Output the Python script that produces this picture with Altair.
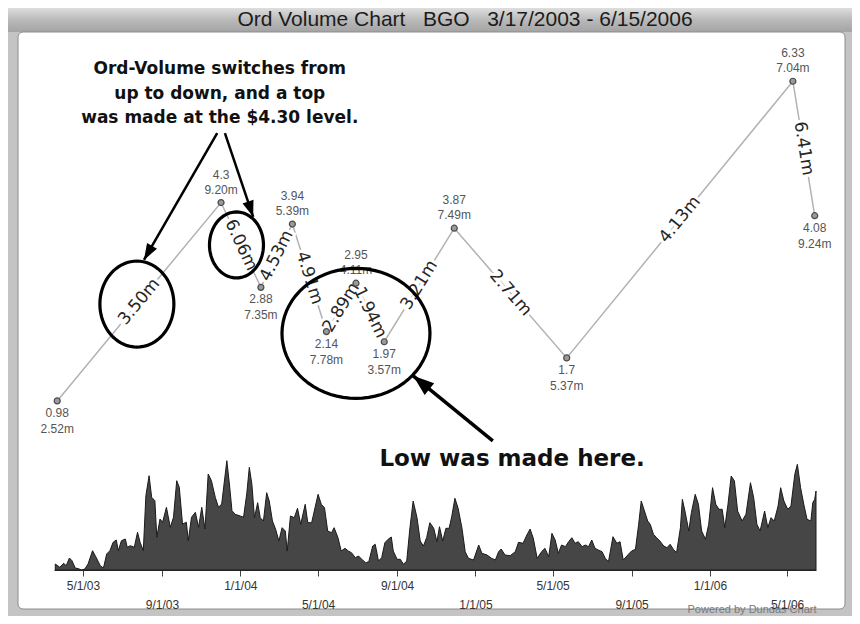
import math
import altair as alt
import pandas as pd

# ---------------- data ----------------
pivot_dates = ["2003-03-22", "2003-12-02", "2004-02-02", "2004-03-22", "2004-05-14",
               "2004-06-29", "2004-08-12", "2004-11-29", "2005-05-23", "2006-05-10",
               "2006-06-13"]
pivot_prices = [0.98, 4.3, 2.88, 3.94, 2.14, 2.95, 1.97, 3.87, 1.7, 6.33, 4.08]
pivot_vol_labels = ["2.52m", "9.20m", "7.35m", "5.39m", "7.78m", "4.11m", "3.57m",
                    "7.49m", "5.37m", "7.04m", "9.24m"]
pivot_kind = ["low", "high", "low", "high", "low", "high", "low", "high", "low", "high", "low"]
segment_vol_labels = ["3.50m", "6.06m", "4.53m", "4.91m", "2.89m", "1.94m", "3.21m",
                      "2.71m", "4.13m", "6.41m"]

vol_start = "2003-03-17"
vol_day = [2, 9, 15, 19, 24, 28, 33, 38, 43, 48, 53, 60, 65, 72, 77, 82, 87, 92, 97, 100,
           105, 111, 114, 119, 125, 130, 134, 139, 143, 148, 152, 157, 160, 165, 169, 175,
           181, 186, 191, 195, 200, 206, 209, 214, 220, 225, 230, 235, 240, 245, 251, 256,
           261, 269, 273, 277,
           282, 290, 295, 300, 304, 308, 312, 317, 321, 326, 331, 335, 340, 345, 350, 355,
           360, 363, 368, 374, 379, 384, 391, 395, 401, 411, 416, 421, 426, 432, 436, 442,
           447, 453, 458, 463, 469, 474, 479, 485, 490, 496, 500, 505, 510, 515, 520, 525,
           528, 534, 539, 544, 549, 554, 559, 565, 570, 575, 580, 585,
           591, 596, 600, 605, 610, 615, 619, 624, 629, 635, 640, 645, 653, 661, 666, 674,
           681, 687, 692, 696, 702, 710, 718, 723, 730, 736, 741, 746, 752, 759, 764, 770,
           775, 780, 785, 790, 796, 801, 806, 811, 816, 822, 827, 832, 837, 842, 847, 853,
           858, 863, 870, 876, 881, 886,
           894, 899, 905, 910, 914, 919, 924, 928, 933, 938, 943, 949, 954, 959, 964, 969,
           975, 978, 982, 988, 992, 998, 1003, 1008, 1014, 1019, 1025, 1030, 1035, 1040,
           1044, 1049, 1054, 1059, 1064, 1071, 1077, 1084, 1089, 1094, 1099, 1106, 1111,
           1116, 1121, 1127, 1131, 1136, 1142, 1147, 1153, 1157, 1162, 1167, 1172, 1178,
           1181, 1184, 1186]
vol_values = [0.6, 0.27, 0.67, 0.43, 1.2, 0.93, 0.2, 0.13, 0.0, 0.1, 0.6, 1.93, 1.33, 0.43,
              0.2, 1.6, 1.93, 2.77, 3.0, 1.93, 2.93, 3.1, 2.27, 2.43, 2.27, 3.77, 2.77, 1.93,
              7.43, 9.43, 7.27, 6.93, 3.27, 5.1, 4.77, 6.27, 4.27, 5.27, 8.93, 8.27, 4.6,
              4.77, 2.93, 5.27, 5.77, 4.27, 6.27, 4.1, 9.6, 8.93, 7.27, 6.27, 6.6, 10.93,
              8.6, 5.93,
              5.57, 5.4, 5.27, 7.6, 10.27, 8.57, 5.23, 6.73, 5.23, 4.9, 7.73, 6.9, 4.9, 4.07,
              2.9, 4.23, 3.9, 1.9, 5.4, 5.23, 6.17, 4.57, 6.57, 4.73, 4.73, 7.57, 6.57, 6.23,
              3.9, 3.73, 4.23, 3.23, 1.9, 2.17, 1.9, 1.73, 1.23, 1.4, 1.07, 0.73, 0.83, 2.4,
              2.57, 0.9, 1.23, 2.73, 3.07, 3.3, 1.9, 1.07, 1.07, 0.57, 0.9, 4.23, 6.9, 5.23,
              2.9, 2.4, 3.23, 4.73,
              4.17, 2.83, 4.33, 2.9, 4.17, 4.17, 5.33, 7.17, 6.17, 4.17, 1.83, 1.17, 1.0,
              2.5, 1.67, 1.5, 1.17, 1.0, 1.83, 2.1, 1.5, 1.43, 1.83, 2.77, 2.67, 3.5, 4.1,
              3.17, 1.17, 1.83, 2.17, 1.33, 3.67, 3.0, 1.67, 2.5, 2.33, 2.83, 3.23, 2.67,
              2.83, 2.33, 2.5, 2.33, 3.0, 2.17, 2.0, 1.83, 1.17, 0.83, 3.33, 2.67, 2.83, 1.0,
              1.57, 1.9, 2.07, 4.57, 6.9, 5.9, 4.9, 4.57, 3.57, 3.23, 2.9, 2.4, 2.23, 2.57,
              2.07, 1.73, 4.23, 7.07, 5.9, 3.9, 5.73, 7.57, 6.57, 3.9, 3.07, 4.57, 8.23, 6.57,
              6.07, 6.07, 4.23, 6.57, 9.4, 8.9, 5.9, 4.9, 5.57, 8.73, 7.23, 4.57, 3.9, 5.9,
              4.23, 5.23, 4.9, 6.4, 8.23, 6.9, 6.07, 6.4, 9.57, 10.57, 8.23, 6.57, 5.07, 4.9,
              6.73, 7.07, 7.9]

tick_months = [(2003, 5), (2003, 9), (2004, 1), (2004, 5), (2004, 9), (2005, 1),
               (2005, 5), (2005, 9), (2006, 1), (2006, 5)]

title_text = "Ord Volume Chart\u00a0\u00a0 BGO\u00a0\u00a0 3/17/2003 - 6/15/2006"
top_note = "Ord-Volume switches from\nup to down, and a top\nwas made at the $4.30 level."
low_note = "Low was made here."

# annotation anchors in data units (date, price)
ellipse_dates = ["2003-07-24", "2003-12-26", "2004-06-29"]
ellipse_prices = [2.60, 3.59, 2.11]
arrow_from_dates = ["2003-11-26", "2003-12-08", "2005-01-28"]
arrow_from_prices = [5.46, 5.46, 0.31]
arrow_to_dates = ["2003-08-04", "2004-01-21", "2004-09-26"]
arrow_to_prices = [3.34, 4.06, 1.40]
top_note_at = ("2003-11-30", 6.53)
low_note_at = ("2005-02-27", 0.0)

# ---------------- layout / styles ----------------
W, H = 762, 530
P0, P1 = -1.85, 7.02
V1 = 53.0
T0 = pd.Timestamp("2003-03-17")
T1 = pd.Timestamp("2006-06-15")
ellipse_radii = [(37, 43), (27, 33), (74, 65)]
arrow_widths = [2.5, 2.5, 3.5]
arrow_heads = [529, 529, 900]
SANS = "Liberation Sans"


def to_px(date, price):
    x = (pd.Timestamp(date) - T0) / (T1 - T0) * W
    y = (P1 - price) / (P1 - P0) * H
    return x, y


xscale = alt.Scale(domain=[alt.DateTime(year=2003, month=3, date=17),
                           alt.DateTime(year=2006, month=6, date=15)])
pscale = alt.Scale(domain=[P0, P1], zero=False, nice=False)
vscale = alt.Scale(domain=[0, V1], zero=True, nice=False)

fmt = "timeFormat(datum.value, '%-m/%-d/%y')"
xaxis = alt.Axis(
    values=[alt.DateTime(year=y, month=m, date=1) for y, m in tick_months],
    labelExpr=f"((year(datum.value)-2003)*12 + month(datum.value) - 4)/4 % 2 == 1 ? ['', {fmt}] : {fmt}",
    labelLineHeight=19, tickSize=6, labelPadding=4, labelFont=SANS,
    labelFontSize=12, labelColor="#333333", tickColor="#444444", domainColor="#222222",
    grid=False, title=None, labelOverlap=False, labelFlush=False, labelAngle=0,
    zindex=1,
)


def X(field):
    return alt.X(f"{field}:T", scale=xscale, axis=xaxis)


def X2(field):
    return alt.X2(f"{field}:T")


def Y(field):
    return alt.Y(f"{field}:Q", scale=pscale, axis=None)


# ---------------- tables ----------------
piv = pd.DataFrame({
    "date": pd.to_datetime(pivot_dates),
    "price": pivot_prices,
    "kind": pivot_kind,
    "label": [f"{p}\n{v}" for p, v in zip(pivot_prices, pivot_vol_labels)],
})

seg_rows = []
for i, lab in enumerate(segment_vol_labels):
    da, db = pd.Timestamp(pivot_dates[i]), pd.Timestamp(pivot_dates[i + 1])
    pa, pb = pivot_prices[i], pivot_prices[i + 1]
    xa, ya = to_px(da, pa)
    xb, yb = to_px(db, pb)
    ang = math.degrees(math.atan2(yb - ya, xb - xa)) % 360
    seg_rows.append({"date": da + (db - da) / 2, "price": (pa + pb) / 2,
                     "label": lab, "ang": ang})
seg = pd.DataFrame(seg_rows)

vol = pd.DataFrame({
    "date": pd.Timestamp(vol_start) + pd.to_timedelta(vol_day, unit="D"),
    "vol": vol_values,
})

arrow_rows = []
for i in range(len(arrow_from_dates)):
    xa, ya = to_px(arrow_from_dates[i], arrow_from_prices[i])
    xb, yb = to_px(arrow_to_dates[i], arrow_to_prices[i])
    ang = math.degrees(math.atan2(xb - xa, -(yb - ya))) % 360
    arrow_rows.append({"d1": pd.Timestamp(arrow_from_dates[i]), "p1": arrow_from_prices[i],
                       "d2": pd.Timestamp(arrow_to_dates[i]), "p2": arrow_to_prices[i],
                       "w": arrow_widths[i], "hs": arrow_heads[i], "ang": ang})
arrows = pd.DataFrame(arrow_rows)

one = pd.DataFrame({"a": [0]})


def ellipse_path(ratio, n=72):
    pts = []
    for k in range(n):
        t = 2 * math.pi * k / n
        pts.append(f"{math.cos(t):.4f},{ratio * math.sin(t):.4f}")
    return "M" + " L".join(pts) + " Z"


ARROW_HEAD = "M0,0 L0.5,1.4 L-0.5,1.4 Z"

# ---------------- chrome ----------------
title_bar_fill = alt.LinearGradient(
    gradient="linear",
    stops=[alt.GradientStop(color="#dedede", offset=0),
           alt.GradientStop(color="#b9b9b9", offset=0.5),
           alt.GradientStop(color="#a4a4a4", offset=1)],
    x1=0, x2=0, y1=0, y2=1)

title_bar = alt.Chart(one).mark_rect(fill=title_bar_fill).encode(
    x=alt.value(-46), x2=alt.value(798), y=alt.value(-32), y2=alt.value(-8))
panel = alt.Chart(one).mark_rect(fill="white", stroke="#8c8c8c", strokeWidth=1,
                                 cornerRadius=5).encode(
    x=alt.value(-36), x2=alt.value(791), y=alt.value(-8), y2=alt.value(569))
title = alt.Chart(one).mark_text(
    text=title_text, font=SANS, fontSize=21, color="#1c1c1c",
    align="center", baseline="middle").encode(x=alt.value(411), y=alt.value(-20))
powered = alt.Chart(one).mark_text(
    text="Powered by Dundas Chart", font=SANS, fontSize=11,
    color="#7a7a7a", align="center", baseline="middle").encode(
    x=alt.value(698), y=alt.value(570))

# ---------------- data layers ----------------
area = alt.Chart(vol).mark_area(fill="#464646", stroke="#1a1a1a", strokeWidth=1,
                                interpolate="linear").encode(
    x=X("date"), y=alt.Y("vol:Q", scale=vscale, axis=None))

line = alt.Chart(piv).mark_line(color="#b2b2b2", strokeWidth=1.5).encode(
    x=X("date"), y=Y("price"))

seg_halo = alt.Chart(seg).mark_text(
    font="DejaVu Sans", fontSize=17, fill="white", stroke="white", strokeWidth=6,
    align="center", baseline="middle").encode(
    x=X("date"), y=Y("price"), text="label:N", angle=alt.Angle("ang:Q", scale=None))
seg_text = alt.Chart(seg).mark_text(
    font="DejaVu Sans", fontSize=17, color="#262626",
    align="center", baseline="middle").encode(
    x=X("date"), y=Y("price"), text="label:N", angle=alt.Angle("ang:Q", scale=None))

points = alt.Chart(piv).mark_point(shape="circle", filled=True, fill="#9a9a9a",
                                   stroke="#4a4a4a", strokeWidth=1.2, size=36,
                                   opacity=1).encode(x=X("date"), y=Y("price"))

lab_high = alt.Chart(piv).transform_filter(alt.datum.kind == "high").mark_text(
    font=SANS, fontSize=12, color="#555555", lineBreak="\n",
    lineHeight=15, align="center", baseline="bottom", dy=-21).encode(
    x=X("date"), y=Y("price"), text="label:N")
lab_low = alt.Chart(piv).transform_filter(alt.datum.kind == "low").mark_text(
    font=SANS, fontSize=12, color="#555555", lineBreak="\n",
    lineHeight=16, align="center", baseline="top", dy=7).encode(
    x=X("date"), y=Y("price"), text="label:N")

# ---------------- annotations ----------------
ellipse_layers = []
for d, p, (rx, ry) in zip(ellipse_dates, ellipse_prices, ellipse_radii):
    df = pd.DataFrame({"date": [pd.Timestamp(d)], "price": [p]})
    ellipse_layers.append(
        alt.Chart(df).mark_point(shape=ellipse_path(ry / rx), size=(2 * rx) ** 2,
                                 filled=False, stroke="#000000", strokeWidth=3.2,
                                 opacity=1).encode(x=X("date"), y=Y("price")))

shafts = alt.Chart(arrows).mark_rule(color="#000000").encode(
    x=X("d1"), y=Y("p1"), x2=X2("d2"), y2=alt.Y2("p2:Q"),
    strokeWidth=alt.StrokeWidth("w:Q", scale=None))
heads = alt.Chart(arrows).mark_point(shape=ARROW_HEAD, filled=True, color="#000000",
                                     opacity=1).encode(
    x=X("d2"), y=Y("p2"), size=alt.Size("hs:Q", scale=None, legend=None),
    angle=alt.Angle("ang:Q", scale=None))

note_top = alt.Chart(pd.DataFrame({"date": [pd.Timestamp(top_note_at[0])],
                                   "price": [top_note_at[1]]})).mark_text(
    text=top_note, font="DejaVu Sans", fontWeight="bold", fontSize=17, color="#111111",
    lineBreak="\n", lineHeight=24.5, align="center", baseline="middle").encode(
    x=X("date"), y=Y("price"))
note_low = alt.Chart(pd.DataFrame({"date": [pd.Timestamp(low_note_at[0])],
                                   "price": [low_note_at[1]]})).mark_text(
    text=low_note, font="DejaVu Sans", fontWeight="bold", fontSize=23, color="#111111",
    align="center", baseline="middle").encode(x=X("date"), y=Y("price"))

chart = alt.layer(
    title_bar, panel, area, line, seg_halo, seg_text, points, lab_high, lab_low,
    *ellipse_layers, shafts, heads, note_top, note_low, title, powered,
).resolve_scale(y="independent").properties(
    width=W, height=H,
    padding={"left": 46, "top": 32, "right": 36, "bottom": 46},
    autosize=alt.AutoSizeParams(type="none"),
    background="#c4c4c4",
).configure_view(stroke=None)

chart.save("out.html", embed_options={"renderer": "svg", "actions": False})
